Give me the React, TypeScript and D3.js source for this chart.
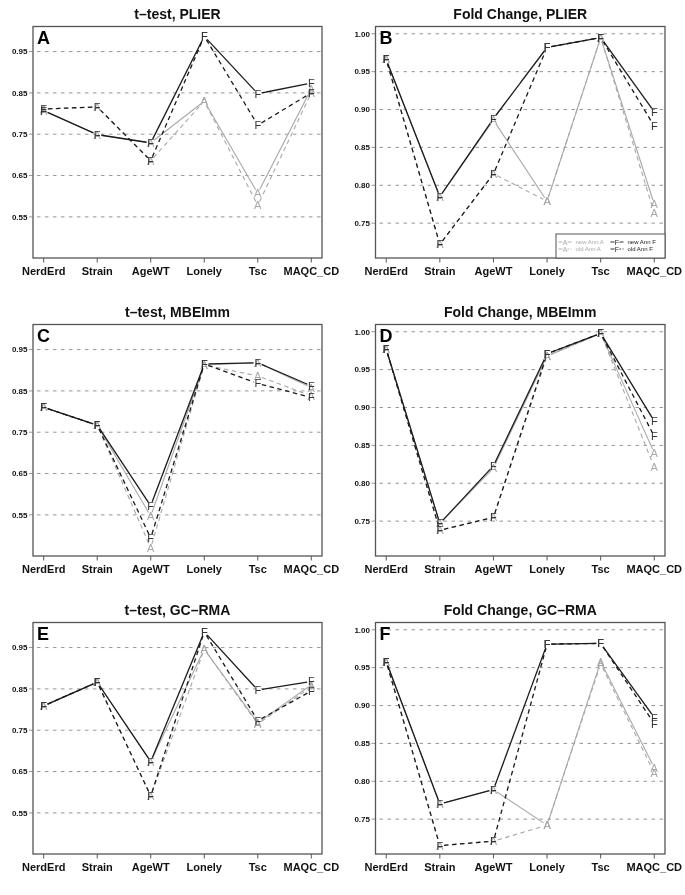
import React from "react";
import * as d3 from "d3";

const categories = ["NerdErd", "Strain", "AgeWT", "Lonely", "Tsc", "MAQC_CD"];

// t-test, PLIER
const tPlierNewA = [0.807, 0.749, 0.729, 0.83, 0.607, 0.86];
const tPlierOldA = [0.811, 0.816, 0.686, 0.83, 0.578, 0.85];
const tPlierNewF = [0.807, 0.749, 0.729, 0.987, 0.848, 0.874];
const tPlierOldF = [0.811, 0.816, 0.686, 0.987, 0.772, 0.85];
// Fold Change, PLIER
const fcPlierNewA = [0.966, 0.785, 0.886, 0.779, 0.995, 0.775];
const fcPlierOldA = [0.966, 0.722, 0.815, 0.779, 0.995, 0.763];
const fcPlierNewF = [0.966, 0.785, 0.888, 0.982, 0.995, 0.897];
const fcPlierOldF = [0.966, 0.722, 0.815, 0.982, 0.995, 0.878];
// t-test, MBEImm
const tMbeNewA = [0.81, 0.767, 0.547, 0.913, 0.918, 0.858];
const tMbeOldA = [0.81, 0.767, 0.47, 0.913, 0.886, 0.838];
const tMbeNewF = [0.81, 0.767, 0.572, 0.915, 0.918, 0.862];
const tMbeOldF = [0.81, 0.767, 0.494, 0.915, 0.868, 0.834];
// Fold Change, MBEImm
const fcMbeNewA = [0.977, 0.747, 0.82, 0.968, 0.998, 0.84];
const fcMbeOldA = [0.977, 0.738, 0.755, 0.968, 0.998, 0.821];
const fcMbeNewF = [0.977, 0.747, 0.823, 0.971, 0.998, 0.882];
const fcMbeOldF = [0.977, 0.738, 0.755, 0.971, 0.998, 0.862];
// t-test, GC-RMA
const tGcNewA = [0.809, 0.866, 0.674, 0.946, 0.768, 0.86];
const tGcOldA = [0.809, 0.866, 0.591, 0.946, 0.765, 0.855];
const tGcNewF = [0.809, 0.866, 0.674, 0.988, 0.847, 0.868];
const tGcOldF = [0.809, 0.866, 0.591, 0.988, 0.773, 0.845];
// Fold Change, GC-RMA
const fcGcNewA = [0.958, 0.77, 0.789, 0.742, 0.958, 0.818];
const fcGcOldA = [0.958, 0.715, 0.721, 0.742, 0.955, 0.811];
const fcGcNewF = [0.958, 0.77, 0.789, 0.981, 0.982, 0.884];
const fcGcOldF = [0.958, 0.715, 0.721, 0.981, 0.982, 0.876];

const tTicks = [0.55, 0.65, 0.75, 0.85, 0.95];
const fcTicks = [0.75, 0.8, 0.85, 0.9, 0.95, 1.0];
const tDomain = [0.4505, 1.0106];
const fcDomain = [0.704, 1.0096];

const panelTitles = [
  "t\u2013test, PLIER",
  "Fold Change, PLIER",
  "t\u2013test, MBEImm",
  "Fold Change, MBEImm",
  "t\u2013test, GC\u2013RMA",
  "Fold Change, GC\u2013RMA",
];
const panelLetters = ["A", "B", "C", "D", "E", "F"];

const legendLabels = ["new Ann A", "old Ann A", "new Ann F", "old Ann F"];

const panels = [
  { fc: false, series: [tPlierOldA, tPlierNewA, tPlierOldF, tPlierNewF] },
  { fc: true, series: [fcPlierOldA, fcPlierNewA, fcPlierOldF, fcPlierNewF] },
  { fc: false, series: [tMbeOldA, tMbeNewA, tMbeOldF, tMbeNewF] },
  { fc: true, series: [fcMbeOldA, fcMbeNewA, fcMbeOldF, fcMbeNewF] },
  { fc: false, series: [tGcOldA, tGcNewA, tGcOldF, tGcNewF] },
  { fc: true, series: [fcGcOldA, fcGcNewA, fcGcOldF, fcGcNewF] },
];

const seriesStyle = [
  { sym: "A", gray: true, dashed: true },
  { sym: "A", gray: true, dashed: false },
  { sym: "F", gray: false, dashed: true },
  { sym: "F", gray: false, dashed: false },
];

const GRAY = "#a8a8a8";
const DARK = "#1a1a1a";
const FONT = "'Liberation Sans', Arial, Helvetica, sans-serif";

const colLeft = [33, 375.5];
const colRight = [322, 665];
const rowTop = 26.5;
const rowBottom = 258;
const rowStep = 298;
const GAP = 4.2;

function Panel({ idx }: { idx: number }) {
  const p = panels[idx];
  const col = idx % 2;
  const row = Math.floor(idx / 2);
  const x0 = colLeft[col];
  const x1 = colRight[col];
  const top = rowTop + row * rowStep;
  const bottom = rowBottom + row * rowStep;
  const x = d3.scaleLinear().domain([-0.2, categories.length - 1 + 0.2]).range([x0, x1]);
  const y = d3
    .scaleLinear()
    .domain(p.fc ? fcDomain : tDomain)
    .range([bottom, top]);
  const ticks = p.fc ? fcTicks : tTicks;
  const fmt = d3.format(".2f");

  const segs: React.ReactNode[] = [];
  const syms: React.ReactNode[] = [];
  p.series.forEach((vals, si) => {
    const st = seriesStyle[si];
    const pts = vals.map((v, i) => [x(i), y(v)] as [number, number]);
    for (let i = 0; i < pts.length - 1; i++) {
      const [ax, ay] = pts[i];
      const [bx, by] = pts[i + 1];
      const L = Math.hypot(bx - ax, by - ay);
      if (L <= 2 * GAP) continue;
      const ux = (bx - ax) / L;
      const uy = (by - ay) / L;
      const line = d3.line();
      segs.push(
        <path
          key={`s${si}-${i}`}
          d={line([
            [ax + ux * GAP, ay + uy * GAP],
            [bx - ux * GAP, by - uy * GAP],
          ]) || ""}
          fill="none"
          stroke={st.gray ? GRAY : DARK}
          strokeWidth={st.gray ? 1.1 : 1.3}
          strokeDasharray={st.dashed ? "4.5,3.5" : undefined}
        />
      );
    }
    pts.forEach(([px, py], i) => {
      syms.push(
        <text
          key={`p${si}-${i}`}
          x={px}
          y={py}
          dy="0.36em"
          textAnchor="middle"
          fontSize={11}
          fontFamily={FONT}
          fill={st.gray ? GRAY : "#333"}
        >
          {st.sym}
        </text>
      );
    });
  });

  const cx = (x0 + x1) / 2;

  return (
    <g>
      <text
        x={cx}
        y={top - 7.5}
        textAnchor="middle"
        fontSize={14}
        fontWeight="bold"
        fontFamily={FONT}
        fill="#111"
      >
        {panelTitles[idx]}
      </text>
      {ticks.map((t) => (
        <g key={t}>
          <line x1={x0 - 4} x2={x1} y1={y(t)} y2={y(t)} stroke="#8a8a8a" strokeWidth={0.9} strokeDasharray="3.5,4.5" />
          <text
            x={x0 - 5.5}
            y={y(t)}
            dy="0.35em"
            textAnchor="end"
            fontSize={8}
            fontWeight="bold"
            fontFamily={FONT}
            fill="#111"
          >
            {fmt(t)}
          </text>
        </g>
      ))}
      {categories.map((c, i) => (
        <g key={c}>
          <line x1={x(i)} x2={x(i)} y1={bottom} y2={bottom + 4.5} stroke="#555" strokeWidth={1} />
          <text
            x={x(i)}
            y={bottom + 17}
            textAnchor="middle"
            fontSize={11}
            fontWeight="bold"
            fontFamily={FONT}
            fill="#111"
          >
            {c}
          </text>
        </g>
      ))}
      {segs}
      <g opacity={0.999}>{syms}</g>
      <rect x={x0} y={top} width={x1 - x0} height={bottom - top} fill="none" stroke="#555" strokeWidth={1.3} />
      <text
        x={x0 + 4}
        y={top + 17.5}
        fontSize={18}
        fontWeight="bold"
        fontFamily={FONT}
        fill="#000"
      >
        {panelLetters[idx]}
      </text>
      {idx === 1 && <Legend x1={x1} bottom={bottom} />}
    </g>
  );
}

function Legend({ x1, bottom }: { x1: number; bottom: number }) {
  const lx = x1 - 109;
  const ly = bottom - 24;
  const rows = [ly + 8, ly + 15];
  const cols = [lx + 2.5, lx + 54.5];
  const items = [
    { c: 0, r: 0, st: seriesStyle[1], label: legendLabels[0] },
    { c: 0, r: 1, st: seriesStyle[0], label: legendLabels[1] },
    { c: 1, r: 0, st: seriesStyle[3], label: legendLabels[2] },
    { c: 1, r: 1, st: seriesStyle[2], label: legendLabels[3] },
  ];
  return (
    <g>
      <rect x={lx} y={ly} width={109} height={24} fill="#fff" stroke="#555" strokeWidth={1} />
      {items.map((it, k) => {
        const cx = cols[it.c];
        const cy = rows[it.r];
        const col = it.st.gray ? GRAY : DARK;
        return (
          <g key={k} opacity={0.999}>
            <line x1={cx} x2={cx + 4} y1={cy} y2={cy} stroke={col} strokeWidth={0.9} />
            <line
              x1={cx + 9}
              x2={cx + 13}
              y1={cy}
              y2={cy}
              stroke={col}
              strokeWidth={0.9}
              strokeDasharray={it.st.dashed ? "1.5,1.5" : undefined}
            />
            <text x={cx + 6.5} y={cy} dy="0.36em" textAnchor="middle" fontSize={7} fontFamily={FONT} fill={col}>
              {it.st.sym}
            </text>
            <text x={cx + 17} y={cy} dy="0.36em" fontSize={6} fontFamily={FONT} fill={it.st.gray ? GRAY : DARK}>
              {it.label}
            </text>
          </g>
        );
      })}
    </g>
  );
}

export default function App() {
  return (
    <svg
      width={685}
      height={895}
      style={{ position: "absolute", left: 0, top: 0, background: "#fff" }}
      xmlns="http://www.w3.org/2000/svg"
    >
      <rect x={0} y={0} width={685} height={895} fill="#fff" />
      <g opacity={0.999}>
        {panels.map((_, i) => (
          <Panel key={i} idx={i} />
        ))}
      </g>
    </svg>
  );
}
